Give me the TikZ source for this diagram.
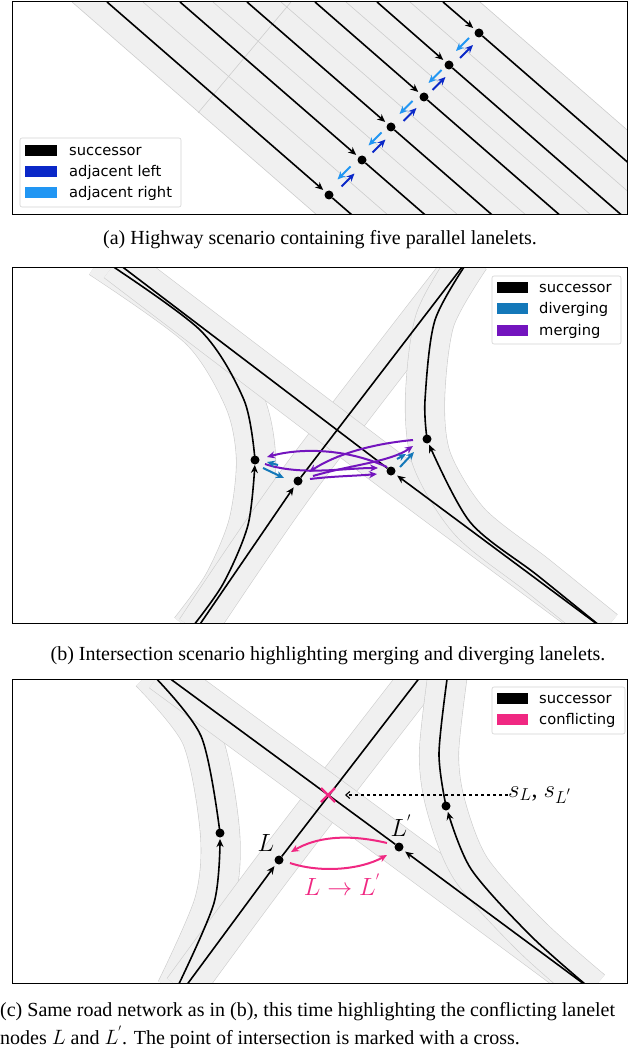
\documentclass[tikz,border=0pt]{standalone}
\usepackage{fontspec}
\setmainfont{Liberation Serif}
\newfontfamily\legfont{DejaVu Sans}
\usetikzlibrary{arrows.meta,calc}
\definecolor{adjL}{RGB}{10,40,200}
\definecolor{adjR}{RGB}{33,150,243}
\definecolor{divc}{RGB}{20,120,185}
\definecolor{merc}{RGB}{115,20,190}
\definecolor{conf}{RGB}{240,40,130}
\definecolor{roadc}{RGB}{240,240,240}
\definecolor{roadl}{RGB}{205,205,205}
\tikzset{
  lane/.style={draw=black,line width=1.6pt},
  succ/.style={lane,-{Stealth[length=8pt,width=7pt]},shorten >=3pt},
  dot/.style={circle,fill=black,inner sep=0pt,minimum size=9pt},
  laneb/.style={draw=roadl,line width=0.6pt},
  bandb/.style={draw=roadl,line width=40pt},
  bandf/.style={draw=roadc,line width=38.8pt},
  frame/.style={draw=black,line width=1pt},
  arr/.style={line width=2pt,-{Stealth[length=8pt,width=7pt]}},
  legbox/.style={draw=gray!35,fill=white,rounded corners=2pt,line width=0.6pt},
  legtxt/.style={font=\legfont\fontsize{14.7}{16}\selectfont,anchor=west,inner sep=0pt},
  captxt/.style={font=\fontsize{20}{24}\selectfont,inner sep=0pt},
  mlab/.style={font=\fontsize{24}{28}\selectfont,inner sep=0pt}
}
\begin{document}
\begin{tikzpicture}[x=1pt,y=-1pt]
\useasboundingbox (0,0) rectangle (640,1048);
% ================= (a) =================
\begin{scope}
\clip (12,2) rectangle (627,215);
\fill[roadc] (72,2) -- (480,2) -- (480+1.15*300,302) -- (72+1.15*300,302) -- cycle;
\draw[laneb] (72,2) -- ++(1.15*300,300);
\draw[laneb] (480,2) -- ++(1.15*300,300);
\foreach \t in {143,213,281,346,410}{\draw[laneb] (\t,2) -- ++(1.15*300,300);}
\draw[laneb] (291,2) -- (198,113);
\foreach \i/\t/\y/\x in {1/107/195/329,2/180/160/362,3/247/127/391,4/315/97/424,5/377/65/449,6/443/33/479}{
  \coordinate (at\i) at (\t,2);
  \node[dot] (a\i) at (\x,\y) {};
  \draw[succ] (at\i) -- (a\i);
  \draw[lane] (a\i) -- ++(1.15*250,250);
}
\foreach \i/\j in {1/2,2/3,3/4,4/5,5/6}{
  \coordinate (m\i) at ($(a\i)!0.5!(a\j)$);
  \draw[arr,adjR] ($(m\i)+(5,-11)$) -- ($(m\i)+(-8,2)$);
  \draw[arr,adjL] ($(m\i)+(-4,9)$) -- ($(m\i)+(9,-4)$);
}
\end{scope}
\draw[frame] (12,2) rectangle (627,215);
\draw[legbox] (20,138) rectangle (181,207);
\fill[black] (25,145) rectangle (57,156); \node[legtxt] (la1) at (69,151) {successor};
\fill[adjL] (25,166) rectangle (57,177); \node[legtxt] (la2) at (69,172) {adjacent left};
\fill[adjR] (25,187) rectangle (57,198); \node[legtxt] (la3) at (69,193) {adjacent right};
\node[captxt] (capa) at (320,240) {(a) Highway scenario containing five parallel lanelets.};
% ================= (b) =================
\begin{scope}
\clip (12,268) rectangle (627,623);
\foreach \p in {
 {(100,258)(200,330)(244,400)(256,459)(248,525)(223,584)(190,630)},
 {(196,630)(298,481)(466,262)},
 {(116,262)(391,471)(605,630)},
 {(470,258)(435,320)(425,400)(432,460)(470,522)(537,575)(605,630)}}{
  \draw[bandb] plot[smooth] coordinates \p;
  \draw[bandf] plot[smooth] coordinates \p;
}
\node[dot] (bA) at (255,460) {};
\node[dot] (bB) at (298,481) {};
\node[dot] (bC) at (391,471) {};
\node[dot] (bD) at (427,439) {};
\coordinate (bS1b) at (196,630);
\coordinate (bS1t) at (466,262);
\coordinate (bS2t) at (116,262);
\coordinate (bS2b) at (605,630);
\draw[lane] plot[smooth] coordinates {(255,460)(244,400)(200,330)(100,258)};
\draw[succ] plot[smooth] coordinates {(190,630)(223,584)(248,525)(255,462)};
\draw[succ] (bS1b) -- (bB);
\draw[lane] (bB) -- (bS1t);
\draw[lane] (bS2t) -- (bC);
\draw[succ] (bS2b) -- (bC);
\draw[lane] plot[smooth] coordinates {(427,439)(425,400)(435,320)(470,258)};
\draw[succ] plot[smooth] coordinates {(605,630)(537,575)(470,522)(428,442)};
% merging / diverging
\draw[arr,merc] (387,467) .. controls (345,448) and (300,448) .. (267,457);
\draw[arr,merc] (265,464) .. controls (300,476) and (345,468) .. (378,468);
\draw[arr,merc] (310,479) .. controls (335,476) and (355,476) .. (377,474);
\draw[arr,merc] (413,440) .. controls (370,444) and (335,455) .. (309,472);
\draw[arr,merc] (313,476) .. controls (350,465) and (390,462) .. (413,446);
\draw[arr,divc] (263,468) -- (284,478);
\draw[arr,divc] (278,465) -- (267,462);
\draw[arr,divc] (400,467) -- (414,452);
\draw[arr,divc] (397,459) -- (406,454);
\end{scope}
\draw[frame] (12,268) rectangle (627,623);
\draw[legbox] (492,276) rectangle (621,344);
\fill[black] (497,282) rectangle (528,293); \node[legtxt] (lb1) at (539,288) {successor};
\fill[divc] (497,303) rectangle (528,314); \node[legtxt] (lb2) at (539,309) {diverging};
\fill[merc] (497,325) rectangle (528,336); \node[legtxt] (lb3) at (539,331) {merging};
\node[captxt] (capb) at (328,656) {(b) Intersection scenario highlighting merging and diverging lanelets.};
% ================= (c) =================
\begin{scope}
\clip (12,679) rectangle (627,983);
\foreach \p in {
 {(150,672)(201,736)(220,833)(214,903)(176,990)},
 {(183,990)(279,860)(424,672)},
 {(161,672)(399,847)(592,990)},
 {(448,672)(439,753)(446,806)(471,869)(531,936)(592,990)}}{
  \draw[bandb] plot[smooth] coordinates \p;
  \draw[bandf] plot[smooth] coordinates \p;
}
\node[dot] (cA) at (220,833) {};
\node[dot] (cL) at (279,860) {};
\node[dot] (cLp) at (399,847) {};
\node[dot] (cD) at (446,806) {};
\coordinate (cS1b) at (183,990);
\coordinate (cS1t) at (424,672);
\coordinate (cS2t) at (161,672);
\coordinate (cS2b) at (592,990);
\draw[lane] plot[smooth] coordinates {(220,833)(201,736)(150,672)};
\draw[succ] plot[smooth] coordinates {(176,990)(214,903)(220,836)};
\draw[succ] (cS1b) -- (cL);
\draw[lane] (cL) -- (cS1t);
\draw[lane] (cS2t) -- (cLp);
\draw[succ] (cS2b) -- (cLp);
\draw[lane] plot[smooth] coordinates {(446,806)(439,753)(448,672)};
\draw[succ] plot[smooth] coordinates {(592,990)(531,936)(471,869)(447,809)};
\end{scope}
\draw[frame] (12,679) rectangle (627,983);
\coordinate (X) at (328,795);
\draw[conf,line width=2.4pt] ($(X)+(-7,-7)$) -- ($(X)+(7,7)$) ($(X)+(-7,7)$) -- ($(X)+(7,-7)$);
\node[mlab,anchor=west] (sl) at (508,795) {$s_{L}$, $s_{L^{'}}$};
\draw[dashed,line width=1.1pt,-{Straight Barb[length=4pt,width=7pt]}] (sl.west) -- (345,795);
\node[mlab] (lL) at (266,843) {$L$};
\node[mlab] (lLp) at (401,826) {$L^{'}$};
\draw[arr,conf] (387,843) .. controls (345,833) and (315,838) .. (291,852);
\draw[arr,conf] (290,863) .. controls (320,873) and (360,870) .. (387,855);
\node[mlab,text=conf] (lab) at (342,885) {$L\rightarrow L^{'}$};
\draw[legbox] (492,687) rectangle (625,734);
\fill[black] (497,693) rectangle (528,704); \node[legtxt] (lc1) at (539,699) {successor};
\fill[conf] (497,714) rectangle (528,725); \node[legtxt] (lc2) at (539,720) {conflicting};
\node[captxt,anchor=west] (capc1) at (0,1012) {(c) Same road network as in (b), this time highlighting the conflicting lanelet};
\node[captxt,anchor=west] (capc2) at (0,1037) {nodes $L$ and $L^{'}$. The point of intersection is marked with a cross.};
\end{tikzpicture}
\end{document}
